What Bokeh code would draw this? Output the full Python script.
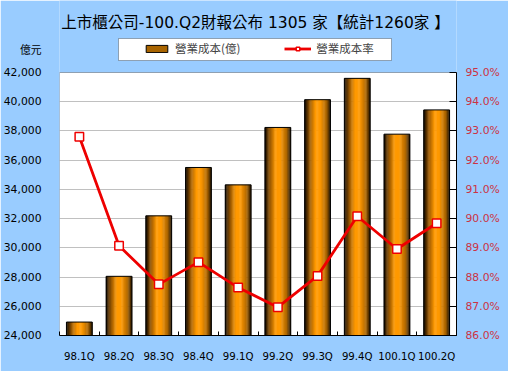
from bokeh.plotting import figure
from bokeh.models import (ColumnDataSource, Range1d, LinearAxis, FixedTicker,
                          NumeralTickFormatter, PrintfTickFormatter, Label,
                          Legend, LegendItem, BoxAnnotation)
from bokeh.transform import dodge
from bokeh.embed import file_html
from bokeh.resources import INLINE

quarters = ["98.1Q", "98.2Q", "98.3Q", "98.4Q", "99.1Q",
            "99.2Q", "99.3Q", "99.4Q", "100.1Q", "100.2Q"]
cost = [24920, 28050, 32190, 35500, 34310, 38240, 40140, 41600, 37780, 39440]
rate = [92.8, 89.07, 87.75, 88.51, 87.64, 86.97, 88.04, 90.08, 88.96, 89.84]
cost_ticks = list(range(24000, 42001, 2000))
rate_ticks = list(range(86, 96))

title_text = "上市櫃公司-100.Q2財報公布 1305 家【統計1260家 】"
unit_text = "億元"
bar_name = "營業成本(億)"
line_name = "營業成本率"

pos = [i + 0.5 for i in range(len(quarters))]
src = ColumnDataSource(dict(x=pos, cost=cost, rate=rate))

CJK = "Noto Sans CJK TC"
MIX = "DejaVu Sans, Noto Sans CJK TC"
NUM = "DejaVu Sans"

# layout: the frame spans from the figure top to the plot bottom; the real
# plot area is its lower PH px, the header lives in the upper part.
W, H = 508, 371
BL, BR, BB = 56, 52, 36
FH = H - BB          # frame height in px
PH = 263             # plot-area height in px
ymin, ymax = cost_ticks[0], cost_ticks[-1]
rmin, rmax = rate_ticks[0], rate_ticks[-1]
y_top = ymin + (ymax - ymin) * FH / PH
r_top = rmin + (rmax - rmin) * FH / PH
unit_y = ymin + (ymax - ymin) * 285 / PH   # where the unit caption sits

p = figure(width=W, height=H, output_backend="svg", toolbar_location=None,
           x_range=Range1d(0, len(quarters)), y_range=Range1d(ymin, y_top),
           min_border_left=BL, min_border_right=BR, min_border_top=0,
           min_border_bottom=BB)
p.border_fill_color = "#99CCFF"
p.background_fill_color = "#99CCFF"
p.outline_line_color = None
p.xgrid.visible = False
p.ygrid.grid_line_color = "#C0C0C0"
p.ygrid.ticker = FixedTicker(ticks=cost_ticks[1:-1])

p.extra_y_ranges = {"rate": Range1d(rmin, r_top)}

# white plot area
p.add_layout(BoxAnnotation(left=0, right=len(quarters), bottom=ymin, top=ymax,
                           fill_color="white", fill_alpha=1, line_color=None,
                           level="image"))

# bars with horizontal gradient built from thin strips
BW = 0.65
N = 22
stops = [(0.0, (10, 5, 0)), (0.2, (150, 86, 0)), (0.42, (255, 153, 0)),
         (0.6, (255, 153, 0)), (0.85, (170, 100, 0)), (1.0, (35, 20, 0))]


def grad(t):
    for (t0, c0), (t1, c1) in zip(stops[:-1], stops[1:]):
        if t0 <= t <= t1:
            f = (t - t0) / (t1 - t0) if t1 > t0 else 0
            return "#%02x%02x%02x" % tuple(int(round(a + (b - a) * f)) for a, b in zip(c0, c1))
    return "#000000"


sw = BW / N
for k in range(N):
    off = -BW / 2 + sw * (k + 0.5)
    p.vbar(x=dodge("x", off, range=p.x_range), top="cost", bottom=ymin,
           width=sw * 1.35, source=src, fill_color=grad((k + 0.5) / N),
           line_color=None)
p.vbar(x="x", top="cost", bottom=ymin, width=BW, source=src,
       fill_alpha=0, line_color="black", line_width=1)
bar_legend = p.vbar(x="x", top="cost", bottom=ymin, width=BW, source=src,
                    fill_color="#A86400", line_color="black", line_width=1,
                    visible=False)

ln = p.line(x="x", y="rate", source=src, y_range_name="rate",
            line_color="#EE0000", line_width=2.8)
mk = p.scatter(x="x", y="rate", source=src, y_range_name="rate", marker="square",
               size=8.5, fill_color="white", line_color="#EE0000", line_width=1.5)

# plot-area outline
p.add_layout(BoxAnnotation(left=0, right=len(quarters), bottom=ymin, top=ymax,
                           fill_alpha=0, line_color="black", line_width=1,
                           level="annotation"))

# axes
xa = p.xaxis[0]
xa.ticker = FixedTicker(ticks=pos, minor_ticks=list(range(len(quarters) + 1)))
xa.major_label_overrides = {p_: q for p_, q in zip(pos, quarters)}
xa.major_tick_line_color = None
xa.minor_tick_in = 4
xa.minor_tick_out = 0
xa.minor_tick_line_color = "black"
xa.axis_line_color = "black"
xa.major_label_text_font = NUM
xa.major_label_text_font_size = "10.2px"
xa.major_label_text_color = "black"
xa.major_label_standoff = 9

ya = p.yaxis[0]
ya.ticker = FixedTicker(ticks=cost_ticks + [unit_y])
ya.formatter = NumeralTickFormatter(format="0,0")
ya.major_label_overrides = {unit_y: unit_text}
ya.major_tick_line_color = None
ya.minor_tick_line_color = None
ya.axis_line_color = None
ya.major_label_text_font = MIX
ya.major_label_text_font_size = "10.8px"
ya.major_label_text_color = "black"
ya.major_label_standoff = 12

ra = LinearAxis(y_range_name="rate", ticker=FixedTicker(ticks=rate_ticks),
                formatter=PrintfTickFormatter(format="%.1f%%"), bounds=(rmin, rmax))
ra.major_tick_in = 7
ra.major_tick_out = 0
ra.major_tick_line_color = "black"
ra.minor_tick_line_color = None
ra.axis_line_color = "black"
ra.major_label_text_font = NUM
ra.major_label_text_font_size = "10.8px"
ra.major_label_text_color = "#CC3344"
ra.major_label_standoff = 9
p.add_layout(ra, "right")

# title
p.add_layout(Label(x=196, y=313, x_units="screen", y_units="screen",
                   text=title_text, text_font=MIX, text_font_size="15.5px",
                   text_align="center", text_baseline="middle", text_color="black"))

# legend box
p.add_layout(BoxAnnotation(left=59, right=332, bottom=275, top=297,
                           left_units="screen", right_units="screen",
                           bottom_units="screen", top_units="screen",
                           fill_color="white", fill_alpha=1,
                           line_color="black", line_width=1, level="annotation"))

legend = Legend(items=[LegendItem(label=bar_name, renderers=[bar_legend]),
                       LegendItem(label=line_name, renderers=[ln, mk])],
                orientation="horizontal", location=(80, 275),
                padding=4, spacing=44, glyph_width=27, glyph_height=9,
                label_standoff=5, label_width=64, margin=0,
                label_text_font=CJK, label_text_font_size="11.5px",
                border_line_alpha=0, background_fill_alpha=0)
p.add_layout(legend, "center")

open("out.html", "w").write(file_html(p, INLINE))
